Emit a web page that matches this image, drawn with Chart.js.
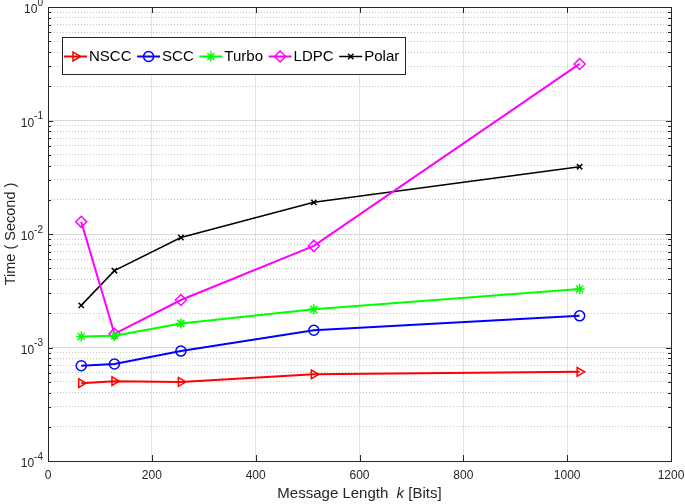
<!DOCTYPE html>
<html>
<head>
<meta charset="utf-8">
<script src="https://cdn.jsdelivr.net/npm/chart.js@4.4.0/dist/chart.umd.min.js"></script>
<style>
  html, body { margin: 0; padding: 0; background: #fff; }
</style>
</head>
<body>
<canvas id="grafico" width="685" height="504"></canvas>
<script>
// Dados do gráfico
const tamanhos = [64, 128, 256, 512, 1024];
const nomes = ['NSCC', 'SCC', 'Turbo', 'LDPC', 'Polar'];
const tempoNSCC = [4.85e-4, 5.05e-4, 4.97e-4, 5.8e-4, 6.1e-4];
const tempoSCC = [6.9e-4, 7.15e-4, 9.3e-4, 1.42e-3, 1.9e-3];
const tempoTurbo = [1.25e-3, 1.27e-3, 1.63e-3, 2.17e-3, 3.27e-3];
const tempoLDPC = [1.28e-2, 1.32e-3, 2.62e-3, 7.85e-3, 0.315];
const tempoPolar = [2.35e-3, 4.75e-3, 9.3e-3, 1.9e-2, 3.92e-2];
const ticksX = [0, 200, 400, 600, 800, 1000, 1200];
const decadasY = [-4, -3, -2, -1, 0];

const fonte = '"Liberation Sans", Arial, Helvetica, sans-serif';
const corEixo = '#262626';

function serie(nome, valores, cor, estilo, raio, rot, largura) {
    return {
        label: nome,
        data: tamanhos.map((k, i) => ({ x: k, y: valores[i] })),
        borderColor: cor,
        backgroundColor: cor,
        borderWidth: largura,
        pointStyle: estilo,
        pointRadius: raio,
        pointHoverRadius: raio,
        pointRotation: rot,
        pointBorderColor: cor,
        pointBackgroundColor: 'rgba(0,0,0,0)',
        pointBorderWidth: 1.5,
        tension: 0
    };
}

const datasets = [
    serie(nomes[0], tempoNSCC, '#ff0000', 'triangle', 5, 90, 2),
    serie(nomes[1], tempoSCC, '#0000ff', 'circle', 5, 0, 2),
    serie(nomes[2], tempoTurbo, '#00ff00', 'star', 5, 0, 2),
    serie(nomes[3], tempoLDPC, '#ff00ff', 'rectRot', 5.5, 0, 2),
    serie(nomes[4], tempoPolar, '#000000', 'crossRot', 3.8, 0, 1.5)
];

function ehDecada(v) {
    const l = Math.log10(v);
    return Math.abs(l - Math.round(l)) < 1e-9;
}

// Moldura, marcas, rótulos em potência de 10, título do eixo x e legenda
const desenhoExtra = {
    id: 'desenhoExtra',
    afterDraw(chart) {
        const ctx = chart.ctx;
        const a = chart.chartArea;
        const sx = chart.scales.x;
        const sy = chart.scales.y;
        ctx.save();

        // marcas do eixo y (para dentro, esquerda e direita)
        ctx.strokeStyle = corEixo;
        ctx.lineWidth = 1;
        sy.ticks.forEach(t => {
            const y = Math.round(sy.getPixelForValue(t.value)) + 0.5;
            const len = ehDecada(t.value) ? 5 : 3;
            ctx.beginPath();
            ctx.moveTo(a.left, y); ctx.lineTo(a.left + len, y);
            ctx.moveTo(a.right, y); ctx.lineTo(a.right - len, y);
            ctx.stroke();
        });
        // marcas do eixo x
        ticksX.forEach(v => {
            const x = Math.round(sx.getPixelForValue(v)) + 0.5;
            ctx.beginPath();
            ctx.moveTo(x, a.bottom); ctx.lineTo(x, a.bottom - 6);
            ctx.moveTo(x, a.top); ctx.lineTo(x, a.top + 6);
            ctx.stroke();
        });
        // moldura
        ctx.strokeRect(Math.round(a.left) + 0.5, Math.round(a.top) + 0.5,
            Math.round(a.right - a.left), Math.round(a.bottom - a.top));

        // rótulos 10^n
        ctx.fillStyle = corEixo;
        ctx.textBaseline = 'middle';
        decadasY.forEach(e => {
            const y = sy.getPixelForValue(Math.pow(10, e));
            const exp = String(e);
            ctx.font = '10px ' + fonte;
            const we = ctx.measureText(exp).width;
            ctx.textAlign = 'left';
            const xe = a.left - 5 - we;
            ctx.fillText(exp, xe, y - 4);
            ctx.font = '12px ' + fonte;
            ctx.textAlign = 'right';
            ctx.fillText('10', xe, y + 3);
        });

        // título do eixo x com k em itálico
        const partes = [
            { t: 'Message Length  ', f: '15px ' + fonte },
            { t: 'k', f: 'italic 15px ' + fonte },
            { t: ' [Bits]', f: '15px ' + fonte }
        ];
        let total = 0;
        partes.forEach(p => { ctx.font = p.f; p.w = ctx.measureText(p.t).width; total += p.w; });
        let px = (a.left + a.right) / 2 - total / 2;
        ctx.textAlign = 'left';
        ctx.fillStyle = corEixo;
        partes.forEach(p => { ctx.font = p.f; ctx.fillText(p.t, px, 494); px += p.w; });

        // legenda
        const lx = 62, ly = 37, lw = 343, lh = 37;
        ctx.fillStyle = '#ffffff';
        ctx.fillRect(lx, ly, lw, lh);
        ctx.strokeStyle = corEixo;
        ctx.lineWidth = 1;
        ctx.strokeRect(lx + 0.5, ly + 0.5, lw, lh);
        let cx = lx + 2;
        const cy = ly + lh / 2 + 1;
        ctx.font = '15px ' + fonte;
        ctx.textAlign = 'left';
        chart.data.datasets.forEach(ds => {
            ctx.strokeStyle = ds.borderColor;
            ctx.lineWidth = ds.borderWidth;
            ctx.beginPath();
            ctx.moveTo(cx, cy); ctx.lineTo(cx + 23, cy);
            ctx.stroke();
            ctx.lineWidth = ds.pointBorderWidth;
            ctx.fillStyle = 'rgba(0,0,0,0)';
            Chart.helpers.drawPoint(ctx, {
                pointStyle: ds.pointStyle,
                radius: ds.pointRadius,
                rotation: ds.pointRotation,
                borderWidth: ds.pointBorderWidth
            }, cx + 11.5, cy);
            ctx.fillStyle = '#000000';
            ctx.fillText(ds.label, cx + 25, cy);
            cx += 25 + ctx.measureText(ds.label).width + 5.6;
        });
        ctx.restore();
    }
};

const grafico = new Chart(document.getElementById('grafico'), {
    type: 'line',
    data: { datasets: datasets },
    options: {
        responsive: false,
        animation: false,
        devicePixelRatio: 1,
        layout: { padding: { top: 7, right: 14, left: 0, bottom: 0 } },
        plugins: {
            legend: { display: false },
            tooltip: { enabled: false }
        },
        scales: {
            x: {
                type: 'linear',
                min: 0,
                max: 1200,
                afterBuildTicks: s => { s.ticks = ticksX.map(v => ({ value: v })); },
                afterFit: s => {
                    s.height = 43;
                    s.paddingLeft = 0;
                    s.paddingRight = 0;
                },
                ticks: {
                    color: corEixo,
                    font: { family: fonte, size: 12 },
                    padding: 7,
                    maxRotation: 0,
                    callback: v => String(v)
                },
                grid: { color: '#e2e2e2', lineWidth: 1, drawTicks: false },
                border: { display: false }
            },
            y: {
                type: 'logarithmic',
                min: 1e-4,
                max: 1,
                afterBuildTicks: s => {
                    const t = [];
                    for (let e = -4; e < 0; e++) {
                        for (let m = 1; m < 10; m++) t.push({ value: m * Math.pow(10, e) });
                    }
                    t.push({ value: 1 });
                    s.ticks = t;
                },
                afterFit: s => {
                    s.width = 48;
                    s.paddingTop = 0;
                    s.paddingBottom = 0;
                },
                ticks: { display: false, autoSkip: false },
                title: {
                    display: true,
                    text: 'Time ( Second )',
                    color: corEixo,
                    font: { family: fonte, size: 14.5 },
                    padding: { top: 2, bottom: 0 }
                },
                grid: {
                    drawTicks: false,
                    color: c => ehDecada(c.tick.value) ? '#d8d8d8' : '#c4c4c4',
                    lineWidth: 1
                },
                border: {
                    display: false,
                    dash: c => (c.tick && !ehDecada(c.tick.value)) ? [1, 2] : []
                }
            }
        }
    },
    plugins: [desenhoExtra]
});
</script>
</body>
</html>
